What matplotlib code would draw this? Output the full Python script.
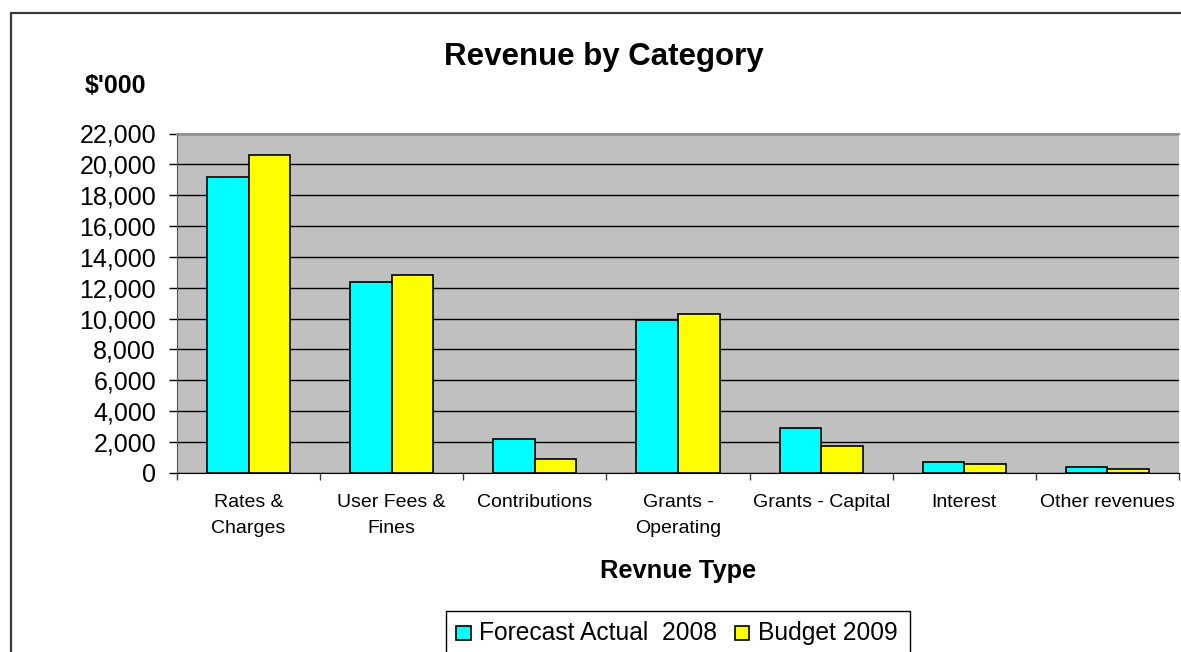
import matplotlib
matplotlib.use("Agg")
import matplotlib.pyplot as plt
from matplotlib.patches import Rectangle
import numpy as np

plt.rcParams['font.family'] = ['Liberation Sans', 'DejaVu Sans']

categories = ["Rates &\nCharges", "User Fees &\nFines", "Contributions",
              "Grants -\nOperating", "Grants - Capital", "Interest", "Other revenues"]
forecast_2008 = [19150, 12370, 2200, 9900, 2920, 690, 370]
budget_2009 = [20620, 12800, 870, 10310, 1710, 580, 260]
series_names = ["Forecast Actual  2008", "Budget 2009"]
series_colors = ["#00FFFF", "#FFFF00"]
y_ticks = list(range(0, 22001, 2000))

W, H = 1181, 652
fig = plt.figure(figsize=(W / 100, H / 100), dpi=100)


def px(x, y):
    """Pixel position (from top-left) to figure fraction."""
    return x / W, 1 - y / H


# outer chart border (runs off the right and bottom edges)
fig.patches.append(Rectangle(px(11, 900), 2.0, (900 - 13.5) / H,
                             transform=fig.transFigure, fill=False,
                             edgecolor="#3a3a3a", linewidth=1.6, zorder=0))

ax = fig.add_axes([177 / W, 1 - 472.7 / H, 1002 / W, (472.7 - 133.5) / H])
ax.set_facecolor("#C0C0C0")

x = np.arange(len(categories))
bw = 0.29
for off, vals, col in zip((-bw / 2, bw / 2), (forecast_2008, budget_2009),
                          series_colors):
    ax.bar(x + off, vals, bw, color=col, edgecolor="black", linewidth=1.2,
           zorder=3)

ax.set_xlim(-0.5, len(categories) - 0.5)
ax.set_ylim(0, 22000)
ax.set_yticks(y_ticks)
ax.set_yticklabels([f"{v:,}" for v in y_ticks], fontsize=18)
ax.yaxis.grid(True, color="black", linewidth=1.0, zorder=1)
ax.set_axisbelow(True)

# category boundaries as major ticks, names as minor tick labels
ax.set_xticks(np.arange(len(categories) + 1) - 0.5)
ax.set_xticklabels([])
ax.set_xticks(x, minor=True)
ax.set_xticklabels(categories, minor=True, fontsize=14)
for lbl in ax.get_xticklabels(minor=True):
    lbl.set_linespacing(1.75)
ax.tick_params(axis="x", which="major", direction="out", length=5, width=1,
               color="#404040")
ax.tick_params(axis="x", which="minor", length=0, pad=15)
ax.tick_params(axis="y", direction="out", length=6, width=1, pad=9,
               color="black")

ax.spines["top"].set_color("#909090")
ax.spines["top"].set_linewidth(1.5)
ax.spines["right"].set_visible(False)
ax.spines["left"].set_color("#555555")
ax.spines["bottom"].set_color("black")

fig.text(*px(604, 57), "Revenue by Category", fontsize=22.5,
         fontweight="bold", ha="center", va="center")
fig.text(*px(85, 86), "$'000", fontsize=18, fontweight="bold",
         ha="left", va="center")
fig.text(*px(678, 571), "Revnue Type", fontsize=18.3,
         fontweight="bold", ha="center", va="center")

# legend box (bottom edge falls below the figure)
fig.patches.append(Rectangle(px(446, 700), (910 - 446) / W, (700 - 611) / H,
                             transform=fig.transFigure, facecolor="white",
                             edgecolor="black", linewidth=1.0, zorder=2))
for (mx, tx), name, col in zip(((456, 479), (734.5, 758)), series_names,
                               series_colors):
    fig.patches.append(Rectangle(px(mx, 640), 14.5 / W, 14.5 / H,
                                 transform=fig.transFigure, facecolor=col,
                                 edgecolor="black", linewidth=1.2, zorder=3))
    fig.text(*px(tx, 640), name, fontsize=17.7, ha="left", va="baseline",
             zorder=4)

fig.savefig("out.png", dpi=100)
